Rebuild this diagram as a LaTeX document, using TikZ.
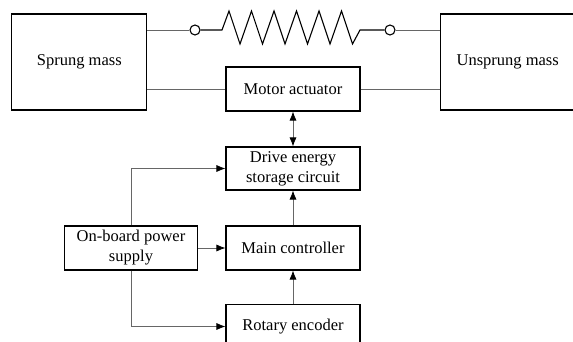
\documentclass[tikz,border=0pt]{standalone}
\usepackage{fontspec}
\setmainfont{Liberation Serif}
\usetikzlibrary{arrows.meta}

\tikzset{
  block/.style={draw=black, line width=1.1pt, minimum width=134pt, minimum height=44pt,
    inner sep=0pt, align=center, font=\fontsize{16.5}{20}\selectfont},
  link/.style={draw=black!60, line width=0.7pt},
  tip/.style={Latex[length=9pt,width=7pt,black]},
  flow/.style={link, -{Latex[length=9pt,width=7pt,black]}},
  terminal/.style={draw=black, line width=1.1pt, circle, minimum size=10pt, inner sep=0pt, fill=white}
}

\begin{document}
\begin{tikzpicture}[x=1pt,y=-1pt]
  \useasboundingbox (0,0) rectangle (573,342);

  \node[block, minimum width=135pt, minimum height=96pt] (sprung) at (79.3,62) {Sprung mass};
  \node[block, minimum width=134pt, minimum height=96pt] (unsprung) at (507.7,62) {Unsprung mass};

  \node[block] (motor) at (293,89) {Motor actuator};
  \node[block, minimum height=43pt] (drive) at (293,168.5) {Drive energy\\storage circuit};
  \node[block] (main) at (293,248) {Main controller};
  \node[block] (encoder) at (293,326.5) {Rotary encoder};
  \node[block, minimum width=133pt] (power) at (131,248) {On-board power\\supply};

  % spring between the masses
  \node[terminal] (tl) at (195,30) {};
  \node[terminal] (tr) at (390,30) {};
  \draw[link] (sprung.east |- tl) -- (tl);
  \draw[link] (tr) -- (unsprung.west |- tr);
  \draw[black, line width=1.1pt, line join=miter] (tl.east) -- (222,30)
    \foreach \i in {0,...,5} { -- ({229+22.5*\i},11) -- ({240+22.5*\i},44) }
    -- (360,30) -- (tr.west);

  % actuator between the masses
  \draw[link] (sprung.east |- motor) -- (motor);
  \draw[link] (motor) -- (unsprung.west |- motor);

  % signal and power flow
  \draw[link, {Latex[length=9pt,width=7pt,black]}-{Latex[length=9pt,width=7pt,black]}] (motor) -- (drive);
  \draw[flow] (main) -- (drive);
  \draw[flow] (encoder) -- (main);
  \draw[flow] (power) -- (main);
  \draw[flow] (power) |- (drive);
  \draw[flow] (power) |- (encoder);
\end{tikzpicture}
\end{document}
